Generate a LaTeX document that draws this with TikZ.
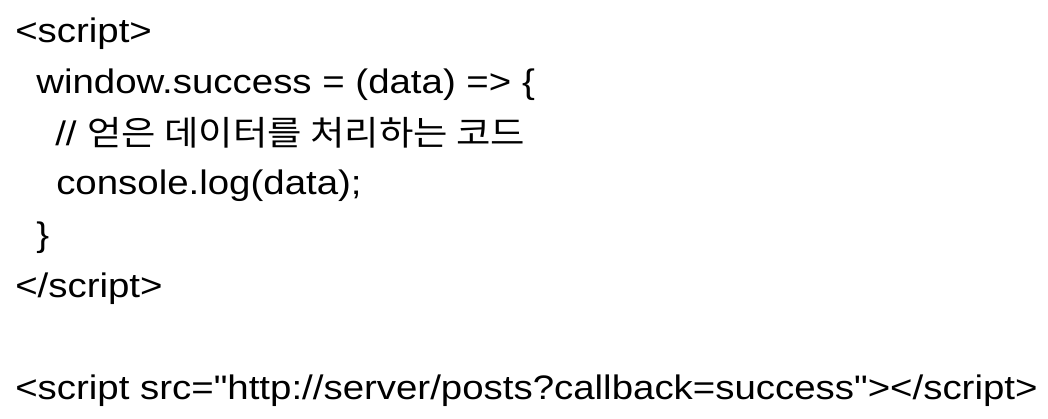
\documentclass[tikz,border=0pt]{standalone}
\usepackage{fontspec}
\setmainfont{Liberation Sans}[FakeStretch=1.13, Ligatures=TeXOff]
\newfontfamily\hangulfont{Noto Sans CJK KR}[FakeStretch=1.1]
\usetikzlibrary{positioning}
\tikzset{code line/.style={anchor=base west, inner sep=0pt,
    font=\fontsize{25.5pt}{30pt}\selectfont}}
\tikzset{code page/.style={fill=white}}

\begin{document}
\begin{tikzpicture}
      [x=0.75pt, y=-0.75pt]
      \path [code page] (0, 0) rectangle (1048, 418);
      \useasboundingbox (0, 0) rectangle (1048, 418);

      \node [code line] (open)  at (15,  42) {<script>};
      \node [code line] (func)  at (36,  93) {window.success = (data) => \{};
      \node [code line] (note)  at (55, 145) {// {\hangulfont 얻은 데이터를 처리하는 코드}};
      \node [code line] (log)   at (56, 194) {console.log(data);};
      \node [code line] (brace) at (36, 246) {\}};
      \node [code line] (close) at (15, 297) {</script>};

      \node [code line] (call)  at (15, 399) {<script src="http://server/posts?callback=success"></script>};
    \end{tikzpicture}
\end{document}
